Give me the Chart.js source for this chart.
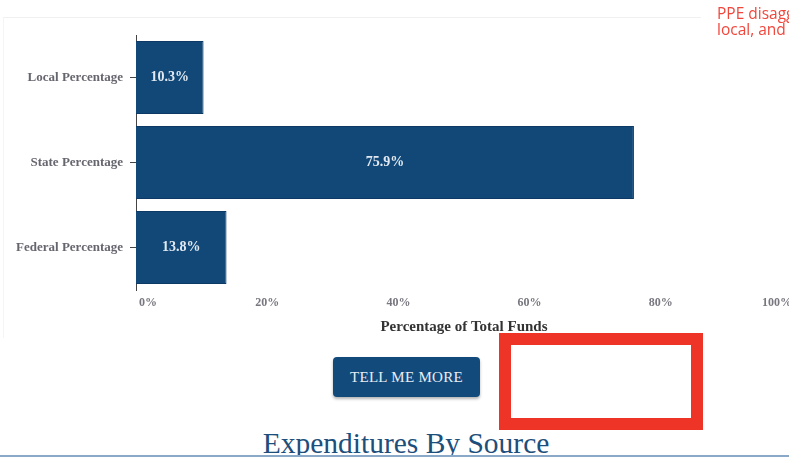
<!DOCTYPE html>
<html>
<head>
<meta charset="utf-8">
<script src="https://cdn.jsdelivr.net/npm/chart.js@4.4.1/dist/chart.umd.min.js"></script>
<style>
  html, body { margin: 0; padding: 0; width: 789px; height: 457px; overflow: hidden; background: #fff; }
  #frame { position: absolute; left: 3px; top: 17px; width: 697px; height: 320px; border-top: 1px solid #f1f1f1; border-left: 1px solid #f5f5f5; }
  #wrap { position: absolute; left: 0; top: 20px; width: 830px; height: 320px; }
  #note { position: absolute; left: 717px; top: 5px; color: #f0473c; font-family: "Open Sans", sans-serif; font-size: 15.5px; line-height: 16px; white-space: nowrap; }
  #btn { position: absolute; left: 333px; top: 357px; width: 147px; height: 40px; background: #134a7c; border-radius: 4px; box-shadow: 0 2px 3px rgba(0,0,0,0.3); color: #e8eef5; font-family: "Liberation Serif", serif; font-size: 15px; line-height: 40px; text-align: center; letter-spacing: 0.3px; }
  #redbox { position: absolute; left: 499px; top: 333px; width: 204px; height: 97px; box-sizing: border-box; border: 12px solid #ee3427; background: #fff; z-index: 5; }
  #heading { position: absolute; left: 0; width: 812px; top: 426px; text-align: center; color: #1d4f7c; font-family: "Liberation Serif", serif; font-size: 29.5px; line-height: 34px; white-space: nowrap; }
  #rule { position: absolute; left: 0; top: 455px; width: 789px; height: 2px; background: #8aa8c8; z-index: 6; }
</style>
</head>
<body>
<div id="frame"></div>
<div id="wrap"><canvas id="c" width="830" height="320"></canvas></div>
<div id="note">PPE disaggregated by federal, state,<br>local, and other sources</div>
<div id="btn">TELL ME MORE</div>
<div id="redbox"></div>
<div id="heading">Expenditures By Source</div>
<div id="rule"></div>
<script>
const categories = ['Local Percentage', 'State Percentage', 'Federal Percentage'];
const percentValues = [10.3, 75.9, 13.8];
const tickValues = [0, 20, 40, 60, 80, 100];
const axisTitle = 'Percentage of Total Funds';

const barLabels = {
  id: 'barLabels',
  afterDatasetsDraw(chart) {
    const ctx = chart.ctx;
    const meta = chart.getDatasetMeta(0);
    ctx.save();
    ctx.fillStyle = '#e2e9f1';
    ctx.font = 'bold 14px "Liberation Serif", "Times New Roman", serif';
    ctx.textAlign = 'center';
    ctx.textBaseline = 'middle';
    meta.data.forEach((bar, i) => {
      const cx = (bar.x + bar.base) / 2;
      ctx.fillText(percentValues[i].toFixed(1) + '%', cx, bar.y);
    });
    ctx.restore();
  }
};

new Chart(document.getElementById('c'), {
  type: 'bar',
  data: {
    labels: categories,
    datasets: [{
      data: percentValues,
      backgroundColor: '#114878',
      borderColor: '#0c3a64',
      borderWidth: 1,
      categoryPercentage: 1.0,
      barPercentage: 0.86
    }]
  },
  options: {
    indexAxis: 'y',
    responsive: false,
    animation: false,
    layout: { padding: { top: 15, right: 38, left: 0, bottom: 0 } },
    plugins: { legend: { display: false }, tooltip: { enabled: false } },
    scales: {
      x: {
        min: 0,
        max: 100,
        afterBuildTicks(scale) { scale.ticks = tickValues.map(v => ({ value: v })); },
        afterFit(scale) { scale.height = 50; },
        grid: { display: false, drawTicks: false },
        border: { display: false },
        ticks: {
          padding: 6,
          color: '#77777f',
          font: { family: '"Liberation Serif", "Times New Roman", serif', size: 12, weight: 'bold' },
          callback(v) {
            if (v === 0) return '\u2003\u20030%';
            if (v === 100) return '100%\u2003\u2003\u2002';
            return v + '%';
          }
        },
        title: {
          display: true,
          text: axisTitle,
          color: '#333333',
          padding: { top: 4, bottom: 4 },
          font: { family: '"Liberation Serif", "Times New Roman", serif', size: 15, weight: 'bold' }
        }
      },
      y: {
        afterFit(scale) { scale.width = 136; },
        grid: { drawOnChartArea: false, offset: false, tickLength: 6, color: '#444', lineWidth: 1 },
        border: { display: true, color: '#444', width: 1 },
        ticks: {
          padding: 7,
          color: '#66666f',
          font: { family: '"Liberation Serif", "Times New Roman", serif', size: 13, weight: 'bold' }
        }
      }
    }
  },
  plugins: [barLabels]
});
</script>
</body>
</html>
